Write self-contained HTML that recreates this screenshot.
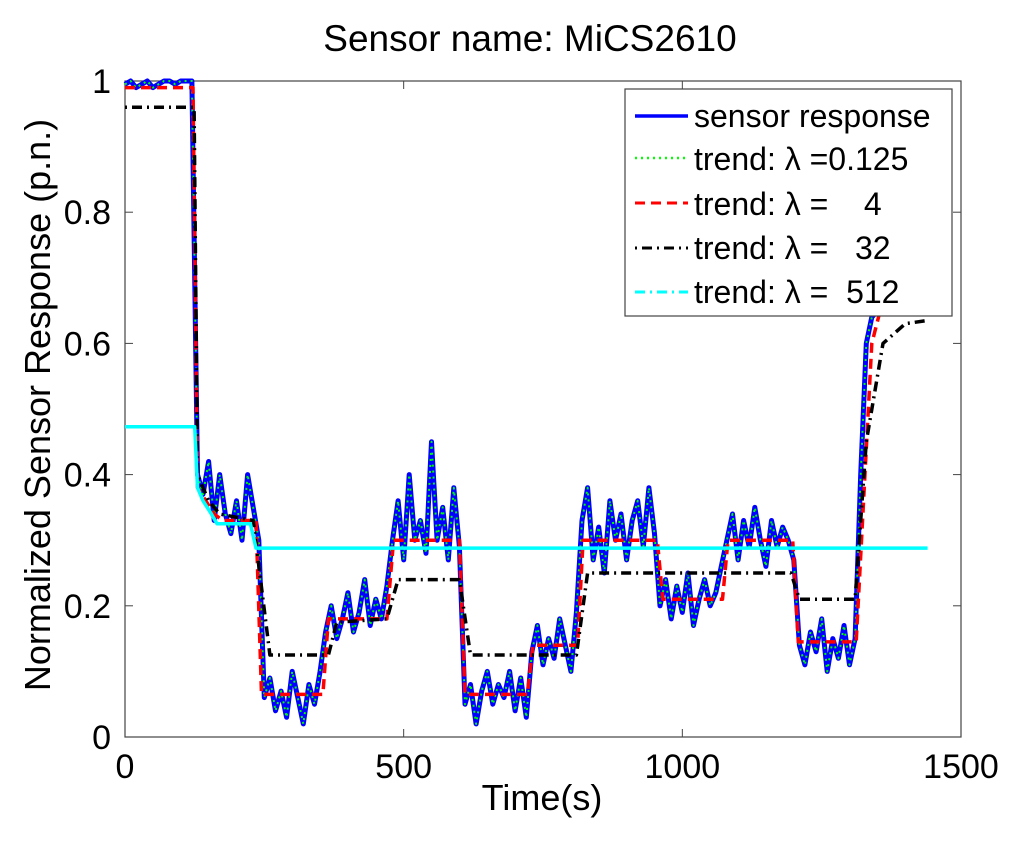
<!DOCTYPE html>
<html><head><meta charset="utf-8"><style>
body{margin:0;background:#fff;}
svg text{font-family:"Liberation Sans",sans-serif;fill:#000;}
</style></head><body>
<svg id="chart" width="1024" height="844" xmlns="http://www.w3.org/2000/svg">
<rect width="1024" height="844" fill="#fff"/>
<text x="530" y="51" font-size="37" text-anchor="middle">Sensor name: MiCS2610</text>
<rect x="125" y="81" width="836" height="656" fill="none" stroke="#444" stroke-width="1.2"/>
<g id="ticks"></g>
<g id="series"></g>
<text x="542" y="810" font-size="36" text-anchor="middle">Time(s)</text>
<text transform="translate(50,405) rotate(-90)" font-size="36" text-anchor="middle">Normalized Sensor Response (p.n.)</text>
<g>
<rect x="625" y="89" width="327" height="227" fill="#fff" stroke="#444" stroke-width="1.2"/>
<line x1="635" y1="116" x2="688" y2="116" stroke="#0000ff" stroke-width="3.5"/>
<text x="694" y="127" font-size="32">sensor response</text>
<line x1="635" y1="158" x2="688" y2="158" stroke="#00ff00" stroke-width="2.5" stroke-dasharray="2,4"/>
<text x="694" y="170" font-size="32">trend: λ =0.125</text>
<line x1="635" y1="203" x2="688" y2="203" stroke="#ff0000" stroke-width="3" stroke-dasharray="10,6"/>
<text x="694" y="215" font-size="32" xml:space="preserve">trend: λ =    4</text>
<line x1="635" y1="248" x2="688" y2="248" stroke="#000" stroke-width="3" stroke-dasharray="2,5,10,5"/>
<text x="694" y="259" font-size="32" xml:space="preserve">trend: λ =   32</text>
<line x1="635" y1="292" x2="688" y2="292" stroke="#00ffff" stroke-width="3" stroke-dasharray="10,5,2,5"/>
<text x="694" y="303" font-size="32" xml:space="preserve">trend: λ =  512</text>
</g>
</svg>
<script>
const xTicks=[0,500,1000,1500];
const yTicks=[0,0.2,0.4,0.6,0.8,1];
const yTickLabels=["0","0.2","0.4","0.6","0.8","1"];
const sensorTimes0=0, sensorStep=10;
const sensor=[0.995,1,0.99,0.995,1,0.99,0.995,1,1,0.995,1,1,1,
0.40,0.37,0.42,0.33,0.40,0.34,0.31,0.36,0.30,0.40,0.35,0.30,
0.06,0.09,0.04,0.07,0.03,0.10,0.06,0.02,0.08,0.05,0.10,
0.16,0.20,0.15,0.18,0.22,0.16,0.19,0.24,0.17,0.21,0.18,0.23,
0.30,0.36,0.27,0.40,0.30,0.33,0.28,0.45,0.30,0.35,0.27,0.38,0.29,
0.05,0.08,0.02,0.07,0.10,0.05,0.08,0.06,0.10,0.04,0.09,0.03,
0.13,0.17,0.11,0.15,0.12,0.18,0.14,0.10,0.19,
0.33,0.38,0.27,0.32,0.25,0.36,0.30,0.34,0.27,0.33,0.36,0.29,0.38,0.31,
0.20,0.24,0.18,0.23,0.19,0.25,0.17,0.21,0.24,0.20,0.22,0.26,
0.30,0.34,0.27,0.33,0.29,0.35,0.30,0.26,0.33,0.29,0.32,0.30,0.27,
0.14,0.11,0.16,0.13,0.18,0.10,0.15,0.12,0.17,0.11,0.15,
0.40,0.60,0.64,0.65];
const trendFine=sensor.slice();
const redTimes=[0,122,130,160,175,235,245,355,365,470,482,600,610,722,732,812,822,955,965,1072,1082,1198,1208,1312,1340,1355];
const redValues=[0.99,0.99,0.38,0.34,0.33,0.33,0.065,0.065,0.18,0.18,0.30,0.30,0.065,0.065,0.14,0.14,0.30,0.30,0.21,0.21,0.30,0.30,0.145,0.145,0.6,0.65];
const blackTimes=[0,124,130,150,170,230,260,365,380,470,490,600,620,810,830,1195,1210,1310,1330,1360,1400,1440];
const blackValues=[0.96,0.96,0.40,0.36,0.34,0.33,0.125,0.125,0.175,0.18,0.24,0.24,0.125,0.125,0.25,0.25,0.21,0.21,0.45,0.6,0.63,0.635];
const cyanTimes=[0,125,130,140,155,165,225,235,1440];
const cyanValues=[0.473,0.473,0.38,0.36,0.34,0.325,0.325,0.288,0.288];

const X=t=>125+t*(836/1500);
const Y=v=>737-v*656;
const NS="http://www.w3.org/2000/svg";
const tg=document.getElementById('ticks');
function mk(tag,attrs,parent){const e=document.createElementNS(NS,tag);for(const k in attrs)e.setAttribute(k,attrs[k]);parent.appendChild(e);return e;}
xTicks.forEach(t=>{
  const x=X(t);
  const l=mk('line',{x1:x,y1:737,x2:x,y2:729,stroke:'#444'},tg);
  
  
  mk('line',{x1:x,y1:81,x2:x,y2:89,stroke:'#444'},tg);
  const tx=mk('text',{x:x,y:778,'font-size':34,'text-anchor':'middle'},tg);
  tx.textContent=t;
  
  
});
yTicks.forEach((v,i)=>{
  const y=Y(v);
  const l=mk('line',{x1:125,y1:y,x2:133,y2:y,stroke:'#444'},tg);
  
  
  mk('line',{x1:961,y1:y,x2:953,y2:y,stroke:'#444'},tg);
  const tx=mk('text',{x:111,y:y+12,'font-size':34,'text-anchor':'end'},tg);
  tx.textContent=yTickLabels[i];
  
  
});
const sg=document.getElementById('series');
function poly(times,vals,style,name){
  const pts=times.map((t,i)=>X(t).toFixed(1)+','+Y(vals[i]).toFixed(1)).join(' ');
  const p=mk('polyline',Object.assign({points:pts,fill:'none','stroke-linejoin':'round'},style),sg);
  
  
}
const sTimes=sensor.map((_,i)=>sensorTimes0+i*sensorStep);
poly(sTimes,sensor,{stroke:'#0000ff','stroke-width':5},'sensor-response-line');
poly(sTimes,trendFine,{stroke:'#00ff00','stroke-width':2,'stroke-dasharray':'2,4'},'trend-0125-line');
poly(redTimes,redValues,{stroke:'#ff0000','stroke-width':3.5,'stroke-dasharray':'10,6'},'trend-4-line');
poly(blackTimes,blackValues,{stroke:'#000','stroke-width':3.5,'stroke-dasharray':'2,5,10,5'},'trend-32-line');
poly(cyanTimes,cyanValues,{stroke:'#00ffff','stroke-width':3.5},'trend-512-line');
</script>
</body></html>
